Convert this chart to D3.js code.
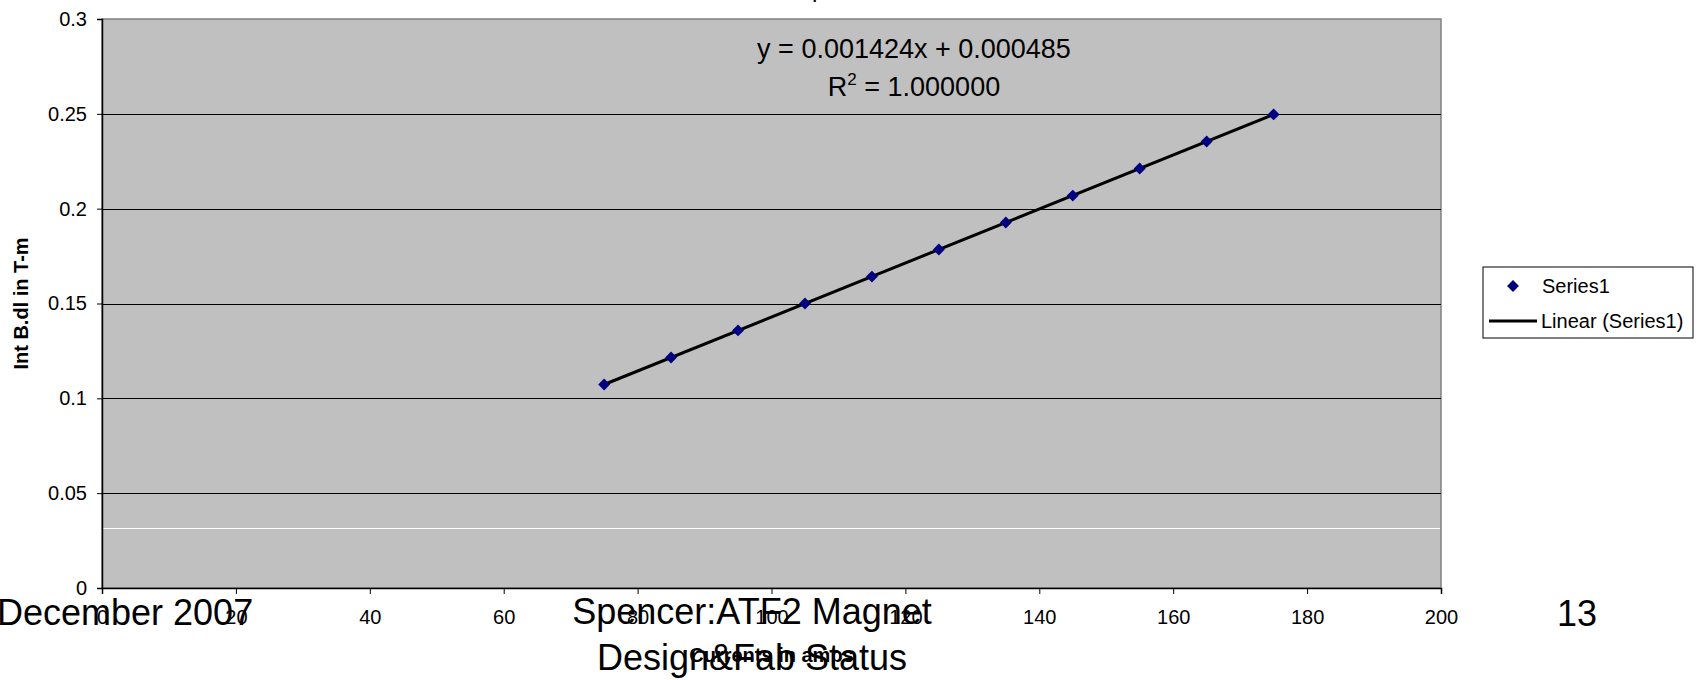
<!DOCTYPE html>
<html>
<head>
<meta charset="utf-8">
<script src="https://cdn.jsdelivr.net/npm/d3@7"></script>
<style>
  html, body { margin: 0; padding: 0; background: #fff; }
  svg { display: block; font-family: Arial, "Liberation Sans", sans-serif; }
</style>
</head>
<body>
<svg id="chart" width="1704" height="680"></svg>
<script>
// ---- data ----
const currents = [75, 85, 95, 105, 115, 125, 135, 145, 155, 165, 175];
const intBdl = [0.1073, 0.1215, 0.1358, 0.1500, 0.1642, 0.1785, 0.1927, 0.2069, 0.2212, 0.2354, 0.2497];
const xTicks = [0, 20, 40, 60, 80, 100, 120, 140, 160, 180, 200];
const xTickLabels = ["0", "20", "40", "60", "80", "100", "120", "140", "160", "180", "200"];
const yTicks = [0, 0.05, 0.1, 0.15, 0.2, 0.25, 0.3];
const yTickLabels = ["0", "0.05", "0.1", "0.15", "0.2", "0.25", "0.3"];
const gridValues = [0.05, 0.1, 0.15, 0.2, 0.25];
const whiteLineValue = [0.0316];
const equationText = "y = 0.001424x + 0.000485";
const legendLabels = ["Series1", "Linear (Series1)"];
const footerLeft = "December 2007";
const footerCenter = ["Spencer:ATF2 Magnet", "Design&Fab Status"];
const footerRight = "13";

// ---- layout ----
const L = 102, R = 1441, T = 19, B = 588;
const svg = d3.select("#chart");
const x = d3.scaleLinear().domain([0, 200]).range([L, R]);
const y = d3.scaleLinear().domain([0, 0.3]).range([B, T]);

// title fragment (cut off at top)
svg.append("text").attr("x", 812).attr("y", -3).attr("font-size", 24).text("p");

// plot area
svg.append("rect").attr("x", L).attr("y", T).attr("width", R - L).attr("height", B - T)
  .attr("fill", "#c0c0c0").attr("stroke", "#808080").attr("stroke-width", 1.5);

// gridlines
svg.append("g").selectAll("line").data(gridValues).join("line")
  .attr("x1", L).attr("x2", R).attr("y1", d => Math.round(y(d)) + 0.5).attr("y2", d => Math.round(y(d)) + 0.5)
  .attr("stroke", "#000").attr("stroke-width", 1);
svg.append("g").selectAll("line").data(whiteLineValue).join("line")
  .attr("x1", L + 1).attr("x2", R - 1).attr("y1", d => Math.round(y(d)) + 0.5).attr("y2", d => Math.round(y(d)) + 0.5)
  .attr("stroke", "#fff").attr("stroke-width", 1);

// axes
const yAxis = svg.append("g").attr("transform", `translate(${L},0)`)
  .call(d3.axisLeft(y).tickValues(yTicks).tickSize(5).tickPadding(10)
    .tickFormat((d, i) => yTickLabels[i]));
yAxis.selectAll("text").attr("font-size", 20).attr("fill", "#000").attr("font-family", "Arial, 'Liberation Sans', sans-serif");
yAxis.selectAll("line").attr("stroke", "#000");
yAxis.select(".domain").attr("stroke", "#000").attr("stroke-width", 1.5);

const xAxis = svg.append("g").attr("transform", `translate(0,${B})`)
  .call(d3.axisBottom(x).tickValues(xTicks).tickSize(6)
    .tickFormat((d, i) => xTickLabels[i]));
xAxis.selectAll("text").attr("font-size", 20).attr("fill", "#000").attr("y", 36).attr("dy", 0)
  .attr("font-family", "Arial, 'Liberation Sans', sans-serif");
xAxis.selectAll("line").attr("stroke", "#000");
xAxis.select(".domain").attr("stroke", "#000").attr("stroke-width", 1.5);

// axis titles
svg.append("text").attr("transform", `translate(28,${(T + B) / 2}) rotate(-90)`)
  .attr("text-anchor", "middle").attr("font-size", 20).attr("font-weight", "bold").text("Int B.dl in T-m");
svg.append("text").attr("x", (L + R) / 2).attr("y", 662)
  .attr("text-anchor", "middle").attr("font-size", 20).attr("font-weight", "bold").text("Currents in amps");

// linear trendline (least squares from data)
const n = currents.length;
const mx = d3.mean(currents), my = d3.mean(intBdl);
const slope = d3.sum(currents, (c, i) => (c - mx) * (intBdl[i] - my)) / d3.sum(currents, c => (c - mx) ** 2);
const intercept = my - slope * mx;
const xr = d3.extent(currents);
svg.append("path")
  .datum(xr.map(v => [v, slope * v + intercept]))
  .attr("d", d3.line().x(d => x(d[0])).y(d => y(d[1])))
  .attr("stroke", "#000").attr("stroke-width", 3).attr("fill", "none");

// points
const diamond = d3.symbol().type(d3.symbolDiamond2).size(90);
svg.append("g").selectAll("path").data(currents).join("path")
  .attr("transform", (d, i) => `translate(${x(d)},${y(intBdl[i])})`)
  .attr("d", diamond).attr("fill", "#000080");

// trendline equation
const eq = svg.append("text").attr("text-anchor", "middle").attr("font-size", 27);
eq.append("tspan").attr("x", 914).attr("y", 58).text(equationText);
const r2 = svg.append("text").attr("x", 914).attr("y", 96).attr("text-anchor", "middle").attr("font-size", 27);
r2.append("tspan").text("R");
r2.append("tspan").attr("font-size", 17).attr("dy", -11).text("2");
r2.append("tspan").attr("dy", 11).text(" = 1.000000");

// legend
const lg = svg.append("g");
lg.append("rect").attr("x", 1483).attr("y", 267).attr("width", 210).attr("height", 71)
  .attr("fill", "#fff").attr("stroke", "#000").attr("stroke-width", 1);
lg.append("path").attr("transform", "translate(1513,286)").attr("d", diamond).attr("fill", "#000080");
lg.append("line").attr("x1", 1489).attr("x2", 1537).attr("y1", 321).attr("y2", 321)
  .attr("stroke", "#000").attr("stroke-width", 3);
lg.append("text").attr("x", 1542).attr("y", 293).attr("font-size", 20).text(legendLabels[0]);
lg.append("text").attr("x", 1541).attr("y", 328).attr("font-size", 20).text(legendLabels[1]);

// slide footer text overlaid
svg.append("text").attr("x", -3).attr("y", 625).attr("font-size", 36).text(footerLeft);
svg.append("text").attr("x", 752).attr("y", 624).attr("text-anchor", "middle").attr("font-size", 36).text(footerCenter[0]);
svg.append("text").attr("x", 752).attr("y", 670).attr("text-anchor", "middle").attr("font-size", 36).text(footerCenter[1]);
svg.append("text").attr("x", 1577).attr("y", 626).attr("text-anchor", "middle").attr("font-size", 36).text(footerRight);
</script>
</body>
</html>
